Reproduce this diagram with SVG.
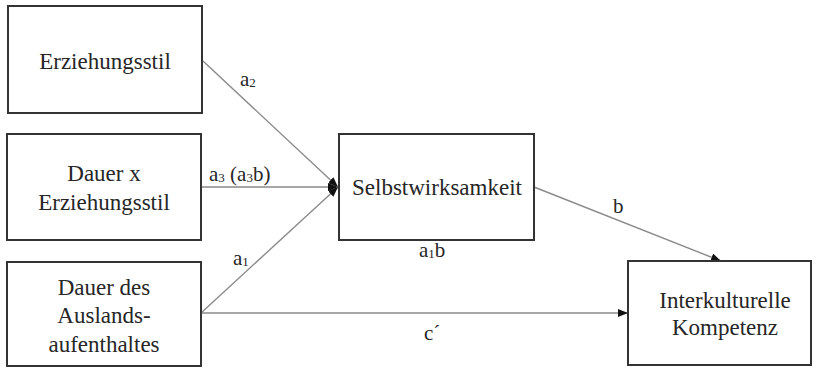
<svg xmlns="http://www.w3.org/2000/svg" width="816" height="368" viewBox="0 0 816 368">
  <style>
    .box { fill: #ffffff; stroke: #333333; stroke-width: 2; }
    .lbl { font-family: "Liberation Serif", "Times New Roman", serif; font-size: 23px; fill: #262626; text-anchor: middle; }
    .path { font-family: "Liberation Serif", "Times New Roman", serif; font-size: 21px; fill: #262626; }
    .sub { font-size: 13px; }
    .edge { stroke: #8a8a8a; stroke-width: 1.4; fill: none; marker-end: url(#head); }
  </style>
  <defs>
    <marker id="head" viewBox="0 0 10 8" refX="10" refY="4" markerWidth="10" markerHeight="8" markerUnits="userSpaceOnUse" orient="auto">
      <path d="M0,0 L10,4 L0,8 Z" fill="#111111"/>
    </marker>
  </defs>
  <rect width="816" height="368" fill="#ffffff"/>

  <g id="connectors">
    <line class="edge" x1="203" y1="61" x2="338" y2="187"/>
    <line class="edge" x1="201" y1="187" x2="338" y2="187"/>
    <line class="edge" x1="201" y1="313" x2="338" y2="187"/>
    <line class="edge" x1="534" y1="187" x2="721" y2="261"/>
    <line class="edge" x1="201" y1="313" x2="628" y2="313"/>
    <text class="path" x="240" y="86">a<tspan class="sub" dy="1">2</tspan></text>
    <text class="path" x="209" y="181">a<tspan class="sub" dy="1">3</tspan><tspan dy="-1"> (a</tspan><tspan class="sub" dy="1">3</tspan><tspan dy="-1">b)</tspan></text>
    <text class="path" x="233" y="265">a<tspan class="sub" dy="1">1</tspan></text>
    <text class="path" x="419" y="257">a<tspan class="sub" dy="1">1</tspan><tspan dy="-1">b</tspan></text>
    <text class="path" x="613" y="213">b</text>
    <text class="path" x="424" y="340">c´</text>
  </g>

  <g id="erziehungsstil">
    <rect class="box" x="8" y="6" width="194" height="107"/>
    <text class="lbl" x="105" y="69">Erziehungsstil</text>
  </g>

  <g id="dauer-x-erziehungsstil">
    <rect class="box" x="7" y="134" width="194" height="106"/>
    <text class="lbl" x="104" y="181">Dauer x</text>
    <text class="lbl" x="104" y="210">Erziehungsstil</text>
  </g>

  <g id="dauer-des-auslandsaufenthaltes">
    <rect class="box" x="7" y="262" width="194" height="104"/>
    <text class="lbl" x="104" y="295">Dauer des</text>
    <text class="lbl" x="104" y="323">Auslands-</text>
    <text class="lbl" x="104" y="352">aufenthaltes</text>
  </g>

  <g id="selbstwirksamkeit">
    <rect class="box" x="339" y="134" width="195" height="106"/>
    <text class="lbl" x="437" y="195">Selbstwirksamkeit</text>
  </g>

  <g id="interkulturelle-kompetenz">
    <rect class="box" x="628" y="261" width="183" height="104"/>
    <text class="lbl" x="725" y="308">Interkulturelle</text>
    <text class="lbl" x="725" y="335">Kompetenz</text>
  </g>
</svg>
